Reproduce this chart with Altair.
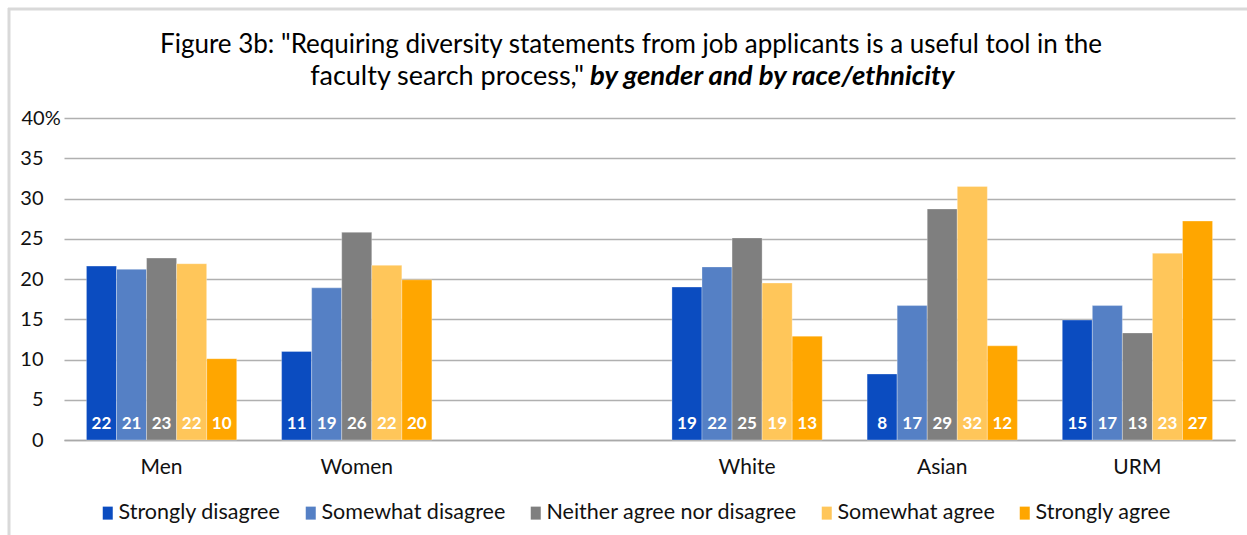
import altair as alt
import pandas as pd

categories = ["Men", "Women", " ", "White", "Asian", "URM"]
series = ["Strongly disagree", "Somewhat disagree", "Neither agree nor disagree",
          "Somewhat agree", "Strongly agree"]
colors = ["#0b4cc0", "#5580c5", "#7f7f7f", "#ffc65a", "#ffa600"]

men = [21.6, 21.2, 22.6, 21.9, 10.1]
women = [11.0, 18.9, 25.8, 21.7, 19.9]
white = [19.0, 21.5, 25.1, 19.5, 12.9]
asian = [8.2, 16.7, 28.7, 31.5, 11.7]
urm = [14.9, 16.7, 13.3, 23.2, 27.2]

men_lbl = [22, 21, 23, 22, 10]
women_lbl = [11, 19, 26, 22, 20]
white_lbl = [19, 22, 25, 19, 13]
asian_lbl = [8, 17, 29, 32, 12]
urm_lbl = [15, 17, 13, 23, 27]

title1 = 'Figure 3b: "Requiring diversity statements from job applicants is a useful tool in the'
title2a = 'faculty search process,"'
title2b = 'by gender and by race/ethnicity'

rows = []
for cat, vals, lbls in [("Men", men, men_lbl), ("Women", women, women_lbl),
                        ("White", white, white_lbl), ("Asian", asian, asian_lbl),
                        ("URM", urm, urm_lbl)]:
    for s, v, l in zip(series, vals, lbls):
        rows.append({"group": cat, "series": s, "value": v, "label": str(l)})
df = pd.DataFrame(rows)

FONT = "Lato"
W, H = 1171, 322

x_enc = alt.X("group:N", sort=categories,
              scale=alt.Scale(domain=categories, paddingInner=0.23, paddingOuter=0.115),
              axis=alt.Axis(title=None, labelAngle=0, ticks=False, domain=True,
                            domainColor="#a9a9a9", domainWidth=1.5,
                            labelFont=FONT, labelFontSize=21, labelColor="#111111",
                            labelPadding=16))
xoff = alt.XOffset("series:N", sort=series, scale=alt.Scale(domain=series, paddingInner=0))

base = alt.Chart(df)

bars = base.mark_bar(stroke="white", strokeWidth=0.5, strokeOpacity=0.6).encode(
    x=x_enc,
    xOffset=xoff,
    y=alt.Y("value:Q", scale=alt.Scale(domain=[0, 40], nice=False),
            axis=alt.Axis(title=None, values=list(range(0, 41, 5)), ticks=False, domain=False,
                          grid=True, gridColor="#b0b0b0", gridWidth=1.5,
                          labelFont=FONT, labelFontSize=20, labelColor="#111111",
                          labelExpr="datum.value == 40 ? '40%' : datum.label",
                          labelAlign={"condition": {"test": "datum.value == 40", "value": "left"},
                                      "value": "right"},
                          labelPadding={"condition": {"test": "datum.value == 40", "value": 43},
                                        "value": 21})),
    color=alt.Color("series:N", sort=series,
                    scale=alt.Scale(domain=series, range=colors),
                    legend=alt.Legend(title=None, orient="none", direction="horizontal",
                                      legendX=33, legendY=384,
                                      labelFont=FONT, labelFontSize=21.5, labelColor="#111111",
                                      labelLimit=0,
                                      symbolType="M-0.77,-1H0.77V1H-0.77Z",
                                      symbolSize=169, symbolStrokeWidth=0,
                                      labelOffset=0, columnPadding=19)),
)

labels = base.mark_text(color="white", fontWeight="bold", font=FONT, fontSize=17,
                        baseline="middle", dy=-16).encode(
    x=alt.X("group:N", sort=categories),
    xOffset=xoff,
    y=alt.datum(0),
    text="label:N",
)

one = pd.DataFrame({"k": [0]})
frame_top = alt.Chart(one).mark_rule(color="#d9d9d9", strokeWidth=3).encode(
    x=alt.value(-56), x2=alt.value(W + 20), y=alt.value(-109))
frame_left = alt.Chart(one).mark_rule(color="#d9d9d9", strokeWidth=3).encode(
    x=alt.value(-55), y=alt.value(-110), y2=alt.value(H + 120))

t1 = alt.Chart(one).mark_text(font=FONT, fontSize=26, color="#000000", align="center",
                              baseline="middle").encode(
    x=alt.value(567), y=alt.value(-73), text=alt.value(title1))
t2a = alt.Chart(one).mark_text(font=FONT, fontSize=27, color="#000000", align="right",
                               baseline="middle").encode(
    x=alt.value(520), y=alt.value(-41), text=alt.value(title2a))
t2b = alt.Chart(one).mark_text(font=FONT, fontSize=27.5, color="#000000", align="left",
                               baseline="middle", fontWeight="bold", fontStyle="italic").encode(
    x=alt.value(526), y=alt.value(-41), text=alt.value(title2b))

chart = alt.layer(bars, labels, frame_top, frame_left, t1, t2a, t2b).resolve_scale(
    x="shared").properties(
    width=W, height=H,
    autosize=alt.AutoSizeParams(type="none"),
    padding={"left": 64, "top": 118, "right": 12, "bottom": 95},
    background="white",
).configure_view(stroke=None)

chart.save("out.html", embed_options={"renderer": "svg", "actions": False})
